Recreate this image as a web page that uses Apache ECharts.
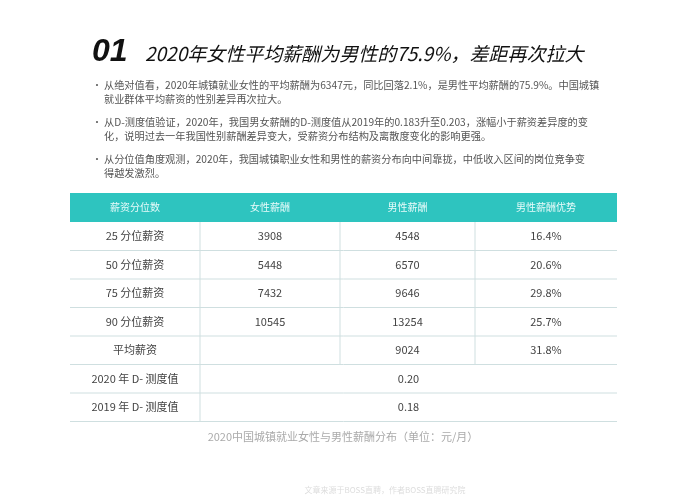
<!DOCTYPE html>
<html><head><meta charset="utf-8">
<script src="https://cdn.jsdelivr.net/npm/echarts@6/dist/echarts.min.js"></script>
<style>html,body{margin:0;padding:0;background:#fff}#c{width:696px;height:500px}</style>
</head><body><div id="c"></div>
<script>
const headers = ['薪资分位数','女性薪酬','男性薪酬','男性薪酬优势'];
const rowLabels = ['25 分位薪资','50 分位薪资','75 分位薪资','90 分位薪资','平均薪资'];
const female = ['3908','5448','7432','10545',''];
const male = ['4548','6570','9646','13254','9024'];
const advantage = ['16.4%','20.6%','29.8%','25.7%','31.8%'];
const dLabels = ['2020 年 D- 测度值','2019 年 D- 测度值'];
const dValues = ['0.20','0.18'];
const bullets = [
 ['从绝对值看，2020年城镇就业女性的平均薪酬为6347元，同比回落2.1%，是男性平均薪酬的75.9%。中国城镇','就业群体平均薪资的性别差异再次拉大。'],
 ['从D-测度值验证，2020年，我国男女薪酬的D-测度值从2019年的0.183升至0.203，涨幅小于薪资差异度的变','化，说明过去一年我国性别薪酬差异变大，受薪资分布结构及离散度变化的影响更强。'],
 ['从分位值角度观测，2020年，我国城镇职业女性和男性的薪资分布向中间靠拢，中低收入区间的岗位竞争变','得越发激烈。']
];
const font = '"Noto Sans CJK SC", sans-serif';
const g = [];
g.push({type:'text',left:92,top:36,style:{text:'01',font:'italic bold 32px "Liberation Sans", sans-serif',fill:'#111'}});
g.push({type:'text',left:145,top:44,style:{text:'2020年女性平均薪酬为男性的75.9%，差距再次拉大',font:'italic 19px '+font,fill:'#111'}});
let by = [80,117,154];
bullets.forEach((b,i)=>{
  g.push({type:'text',left:92,top:by[i],style:{text:'•',font:'10px '+font,fill:'#666'}});
  b.forEach((ln,j)=>g.push({type:'text',left:104,top:by[i]+j*14,style:{text:ln,font:'10.2px '+font,fill:'#555'}}));
});
const cx = [70,200,340,475,617];
const hTop = 193, hH = 29, rH = 28.5;
g.push({type:'rect',shape:{x:70,y:hTop,width:547,height:hH},style:{fill:'#2ec4bf'}});
headers.forEach((h,i)=>g.push({type:'text',x:(cx[i]+cx[i+1])/2,y:hTop+hH/2,style:{text:h,font:'10px '+font,fill:'#e8fbfa',align:'center',verticalAlign:'middle'}}));
const cell=(t,x,y)=>g.push({type:'text',x:x,y:y,style:{text:t,font:'11px '+font,fill:'#444',align:'center',verticalAlign:'middle'}});
const line=(x1,y1,x2,y2)=>g.push({type:'line',shape:{x1,y1,x2,y2},style:{stroke:'#cfdfe0',lineWidth:1}});
const nRows = rowLabels.length + dLabels.length;
const tBottom = hTop+hH+nRows*rH;
rowLabels.forEach((l,r)=>{
  const y = hTop+hH+r*rH+rH/2;
  [l,female[r],male[r],advantage[r]].forEach((t,i)=>cell(t,(cx[i]+cx[i+1])/2,y));
});
dLabels.forEach((l,k)=>{
  const y = hTop+hH+(rowLabels.length+k)*rH+rH/2;
  cell(l,(cx[0]+cx[1])/2,y); cell(dValues[k],(cx[1]+cx[4])/2,y);
});
for(let r=1;r<=nRows;r++) line(70,hTop+hH+r*rH,617,hTop+hH+r*rH);
line(cx[1],hTop+hH,cx[1],tBottom);
[2,3].forEach(i=>line(cx[i],hTop+hH,cx[i],hTop+hH+rowLabels.length*rH));
g.push({type:'text',x:343,y:437,style:{text:'2020中国城镇就业女性与男性薪酬分布（单位：元/月）',font:'11px '+font,fill:'#aaa',align:'center',verticalAlign:'middle'}});
g.push({type:'text',x:385,y:490,style:{text:'文章来源于BOSS直聘，作者BOSS直聘研究院',font:'8px '+font,fill:'#ddd',align:'center',verticalAlign:'middle'}});
const chart = echarts.init(document.getElementById('c'));
chart.setOption({backgroundColor:'#fff',graphic:g});
</script></body></html>
